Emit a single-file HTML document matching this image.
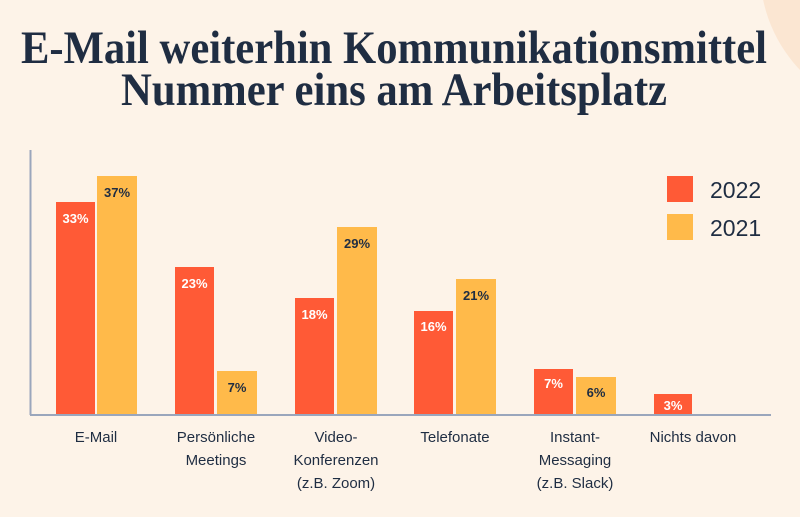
<!DOCTYPE html>
<html><head><meta charset="utf-8"><style>
html,body{margin:0;padding:0;background:#FDF3E8;}
svg{display:block;}
</style></head><body>
<svg width="800" height="517" viewBox="0 0 800 517" xmlns="http://www.w3.org/2000/svg">
<rect width="800" height="517" fill="#FDF3E8"/>
<circle cx="905" cy="-30" r="145" fill="#FBE6D2"/>
<g font-family="Liberation Serif, serif" font-weight="bold" fill="#1F2D42" font-size="47">
<text x="21" y="63" textLength="746" lengthAdjust="spacingAndGlyphs">E-Mail weiterhin Kommunikationsmittel</text>
<text x="121" y="105" textLength="546" lengthAdjust="spacingAndGlyphs">Nummer eins am Arbeitsplatz</text>
</g>
<line x1="30.5" y1="150" x2="30.5" y2="415" stroke="#9AA6BC" stroke-width="2"/>
<line x1="30" y1="415" x2="771" y2="415" stroke="#9AA6BC" stroke-width="2"/>
<g>
<rect x="56" y="202" width="39" height="212" fill="#FF5A36"/>
<rect x="97" y="176" width="40" height="238" fill="#FFBA4A"/>
<rect x="175" y="267" width="39" height="147" fill="#FF5A36"/>
<rect x="217" y="371" width="40" height="43" fill="#FFBA4A"/>
<rect x="295" y="298" width="39" height="116" fill="#FF5A36"/>
<rect x="337" y="227" width="40" height="187" fill="#FFBA4A"/>
<rect x="414" y="311" width="39" height="103" fill="#FF5A36"/>
<rect x="456" y="279" width="40" height="135" fill="#FFBA4A"/>
<rect x="534" y="369" width="39" height="45" fill="#FF5A36"/>
<rect x="576" y="377" width="40" height="37" fill="#FFBA4A"/>
<rect x="654" y="394" width="38" height="20" fill="#FF5A36"/>
</g>
<g font-family="Liberation Sans, sans-serif" font-size="13" font-weight="bold" text-anchor="middle">
<g fill="#FFFFFF">
<text x="75.5" y="223">33%</text>
<text x="194.5" y="288">23%</text>
<text x="314.5" y="319">18%</text>
<text x="433.5" y="331">16%</text>
<text x="553.5" y="388">7%</text>
<text x="673" y="410">3%</text>
</g>
<g fill="#1F2D42">
<text x="117" y="197">37%</text>
<text x="237" y="392">7%</text>
<text x="357" y="248">29%</text>
<text x="476" y="300">21%</text>
<text x="596" y="397">6%</text>
</g>
</g>
<g font-family="Liberation Sans, sans-serif" font-size="15" fill="#1F2D42" text-anchor="middle">
<text x="96" y="442">E-Mail</text>
<text x="216" y="442">Persönliche</text>
<text x="216" y="465">Meetings</text>
<text x="336" y="442">Video-</text>
<text x="336" y="465">Konferenzen</text>
<text x="336" y="488">(z.B. Zoom)</text>
<text x="455" y="442">Telefonate</text>
<text x="575" y="442">Instant-</text>
<text x="575" y="465">Messaging</text>
<text x="575" y="488">(z.B. Slack)</text>
<text x="693" y="442">Nichts davon</text>
</g>
<rect x="667" y="176" width="26" height="26" fill="#FF5A36"/>
<rect x="667" y="214" width="26" height="26" fill="#FFBA4A"/>
<g font-family="Liberation Sans, sans-serif" font-size="23" fill="#1F2D42">
<text x="710" y="198">2022</text>
<text x="710" y="236">2021</text>
</g>
</svg>
</body></html>
